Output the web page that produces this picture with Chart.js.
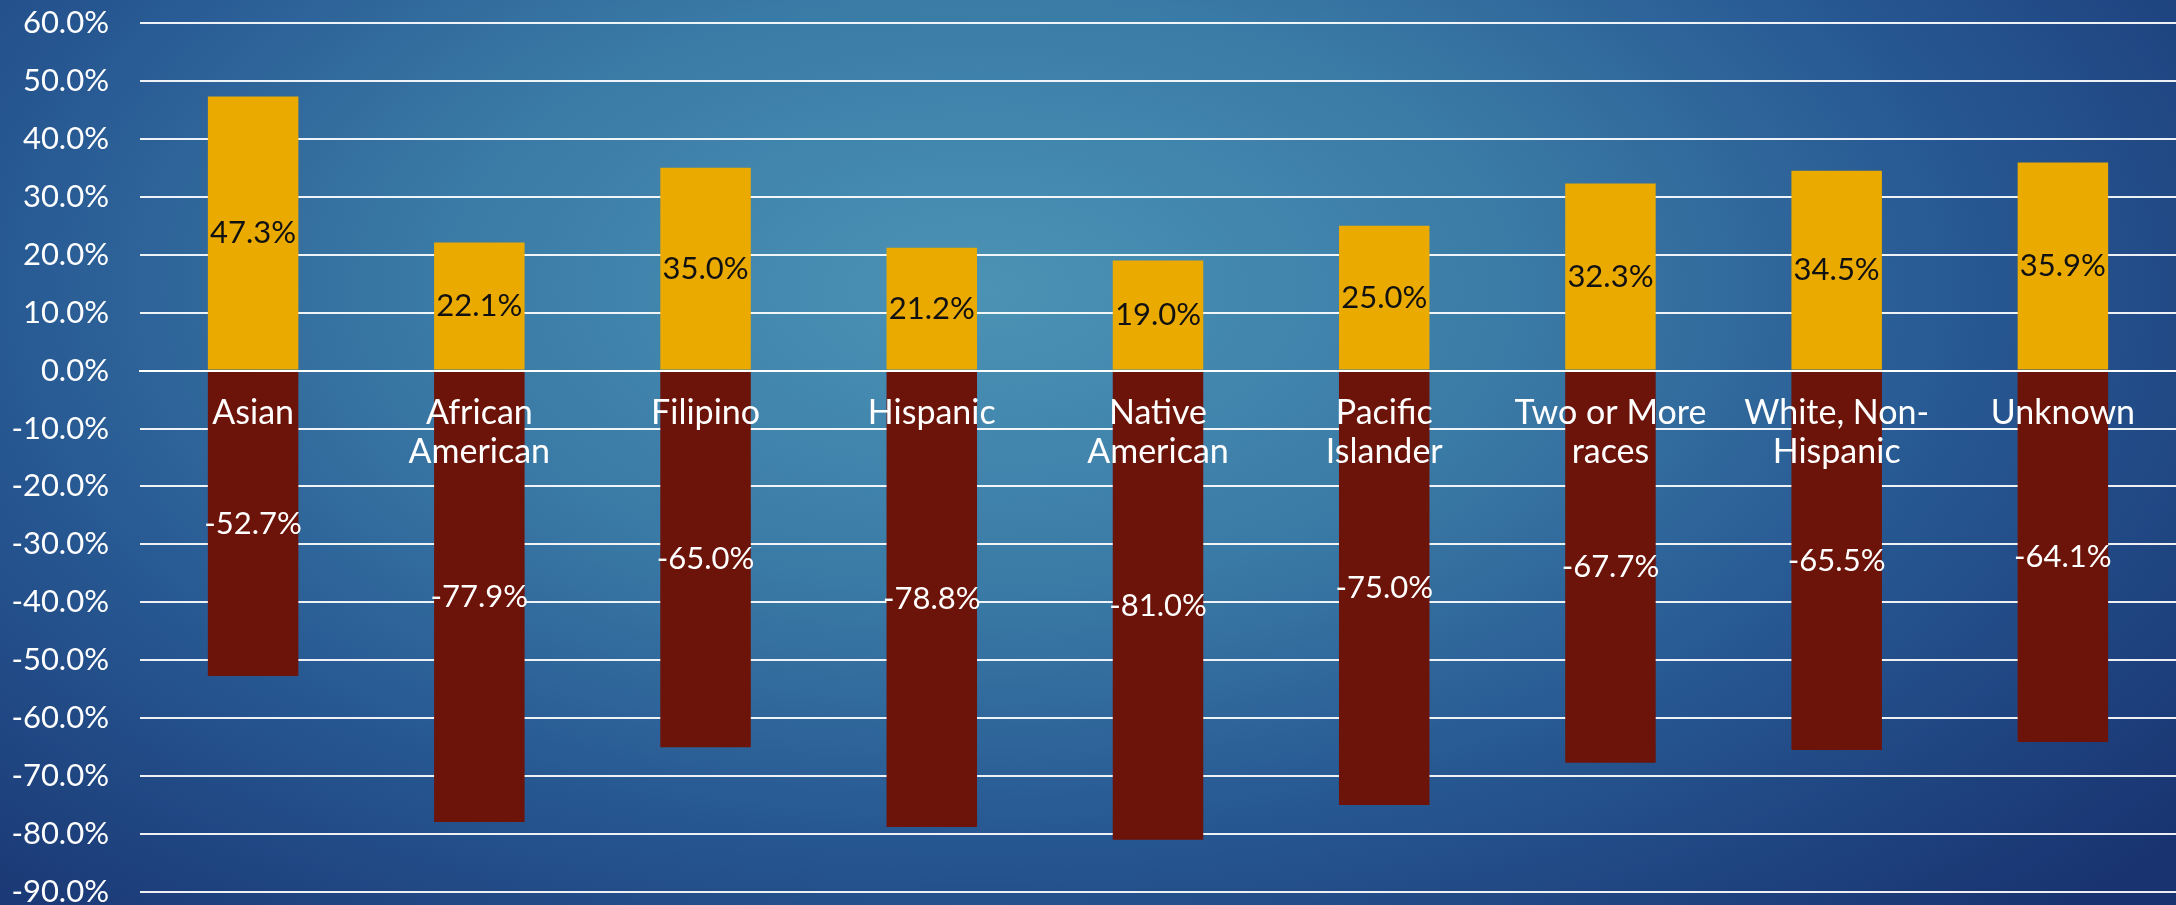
<!DOCTYPE html>
<html>
<head>
<meta charset="utf-8">
<script src="https://cdn.jsdelivr.net/npm/chart.js@4.4.0/dist/chart.umd.min.js"></script>
<style>
  html, body { margin: 0; padding: 0; }
  body {
    width: 2176px; height: 905px; overflow: hidden;
    background: radial-gradient(ellipse 72% 95% at 45% 32%, #4b93b5 0%, #3a7aa6 35%, #275892 63%, #183370 100%);
  }
  #wrap { position: relative; width: 2176px; height: 905px; }
</style>
</head>
<body>
<div id="wrap"><canvas id="chart"></canvas></div>
<script>
// categories and values
const categories = ['Asian', ['African', 'American'], 'Filipino', 'Hispanic', ['Native', 'American'],
  ['Pacific', 'Islander'], ['Two or More', 'races'], ['White, Non-', 'Hispanic'], 'Unknown'];
const upperValues = [47.3, 22.1, 35.0, 21.2, 19.0, 25.0, 32.3, 34.5, 35.9];
const lowerValues = [-52.7, -77.9, -65.0, -78.8, -81.0, -75.0, -67.7, -65.5, -64.1];

const FONT = 'Lato, "DejaVu Sans", sans-serif';
const fmt = v => v.toFixed(1) + '%';

// draws the value in the middle of each bar
const barLabels = {
  id: 'barLabels',
  afterDatasetsDraw(chart) {
    const ctx = chart.ctx;
    ctx.save();
    ctx.font = '31px ' + FONT;
    ctx.textAlign = 'center';
    ctx.textBaseline = 'middle';
    chart.data.datasets.forEach((ds, di) => {
      const meta = chart.getDatasetMeta(di);
      ctx.fillStyle = ds.labelColor;
      meta.data.forEach((el, i) => {
        ctx.fillText(fmt(ds.data[i]), el.x, (el.y + el.base) / 2);
      });
    });
    ctx.restore();
  }
};

new Chart(document.getElementById('chart'), {
  type: 'bar',
  data: {
    labels: categories,
    datasets: [
      { data: upperValues, backgroundColor: '#eaaa00', labelColor: '#111111' },
      { data: lowerValues, backgroundColor: '#6c1409', labelColor: '#ffffff' }
    ]
  },
  options: {
    responsive: true,
    maintainAspectRatio: false,
    animation: false,
    layout: { padding: { top: 23, bottom: 13, left: 0, right: 0 } },
    datasets: { bar: { categoryPercentage: 1, barPercentage: 0.4 } },
    plugins: { legend: { display: false }, tooltip: { enabled: false } },
    scales: {
      x: {
        stacked: true,
        position: { y: 0 },
        grid: { display: false, drawTicks: false },
        border: { display: true, color: '#ffffff', width: 2, z: 1 },
        ticks: {
          z: 1,
          color: '#ffffff', padding: 23, maxRotation: 0, autoSkip: false,
          font: { family: FONT, size: 34, lineHeight: 1.15 }
        }
      },
      y: {
        stacked: true,
        min: -90, max: 60,
        afterFit(scale) { scale.width = 140; scale.paddingTop = 0; scale.paddingBottom = 0; },
        grid: { color: 'rgba(255,255,255,0.92)', lineWidth: 2, drawTicks: false },
        border: { display: false },
        ticks: {
          stepSize: 10, color: '#ffffff', padding: 31,
          font: { family: FONT, size: 31 },
          callback: v => fmt(v)
        }
      }
    }
  },
  plugins: [barLabels]
});
</script>
</body>
</html>
